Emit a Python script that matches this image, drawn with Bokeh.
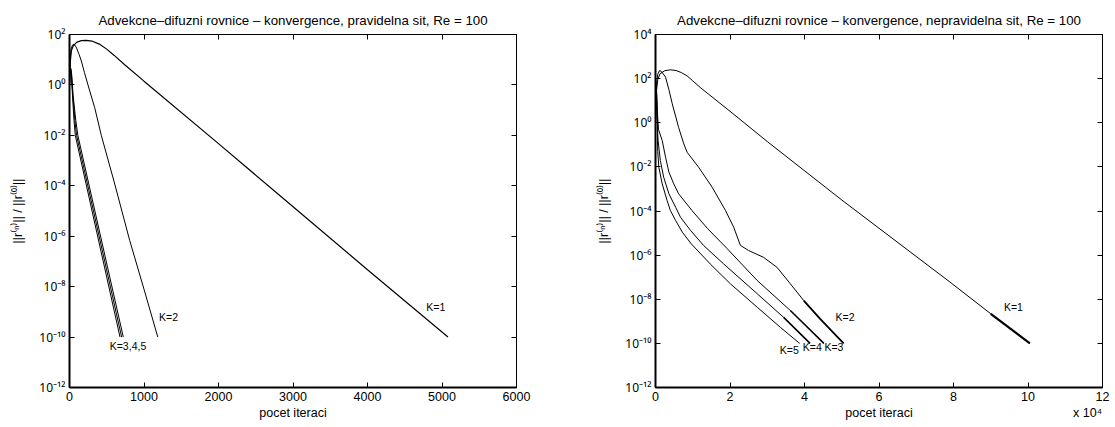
from bokeh.plotting import figure
from bokeh.layouts import row
from bokeh.models import (FixedTicker, CustomJSTickFormatter, LinearAxis, LogAxis,
                          Range1d, ColumnDataSource)
from bokeh.core.properties import value
from bokeh.embed import file_html
from bokeh.resources import INLINE

FONT = "Liberation Sans"
SUPFONT = "Noto Sans"
MIXFONT = "Liberation Sans, Noto Sans"

# ---------------- texts ----------------
left_title = "Advekcne–difuzni rovnice – konvergence, pravidelna sit, Re = 100"
right_title = "Advekcne–difuzni rovnice – konvergence, nepravidelna sit, Re = 100"
x_label = "pocet iteraci"
y_label = "||r⁽ⁿ⁾|| / ||r⁽⁰⁾||"
right_x_multiplier = "x 10⁴"

# ---------------- ticks ----------------
left_x_ticks = [0, 1000, 2000, 3000, 4000, 5000, 6000]
left_y_ticks = [1e-12, 1e-10, 1e-8, 1e-6, 1e-4, 1e-2, 1e0, 1e2]
right_x_ticks = [0, 20000, 40000, 60000, 80000, 100000, 120000]
right_x_tick_labels = ["0", "2", "4", "6", "8", "10", "12"]
right_y_ticks = [1e-12, 1e-10, 1e-8, 1e-6, 1e-4, 1e-2, 1e0, 1e2, 1e4]

# ---------------- left plot: regular grid ----------------
L1_iter = [0, 10, 25, 50, 100, 160, 226, 300, 400, 500, 600, 741, 1000, 2000, 2902, 4000, 5080]
L1_res = [1.0, 7.9, 22.4, 35.5, 50.1, 57.5, 58.9, 55.0, 41.7, 26.3, 14.8, 6.3, 1.41,
          4.7e-3, 2.6e-5, 4.7e-8, 1.0e-10]

L2_iter = [0, 8, 20, 40, 60, 90, 130, 159, 200, 248, 338, 427, 600, 808, 1000, 1185]
L2_res = [1.0, 10.0, 25.1, 38.0, 41.7, 31.6, 15.8, 8.9, 3.16, 1.0, 0.126, 1.0e-2,
          1.41e-4, 6.8e-7, 7.9e-9, 1.0e-10]

L3_iter = [0, 5, 16, 28, 48, 84, 112, 722]
L3_res = [1.0, 2.51, 4.57, 2.82, 0.398, 0.0398, 1.0e-2, 1.0e-10]
L4_iter = [0, 5, 15, 26, 44, 72, 95, 700]
L4_res = [1.0, 2.51, 4.47, 2.82, 0.398, 0.0398, 1.0e-2, 1.0e-10]
L5_iter = [0, 5, 14, 24, 40, 60, 78, 678]
L5_res = [1.0, 2.51, 4.37, 2.82, 0.398, 0.0398, 1.0e-2, 1.0e-10]

left_label_text = ["K=1", "K=2", "K=3,4,5"]
left_label_x = [4916, 1330, 785]
left_label_y = [1.62e-9, 6.0e-10, 4.4e-11]

# ---------------- right plot: irregular grid ----------------
R1_iter = [0, 100, 300, 600, 1200, 2500, 4000, 5500, 7000, 8500, 10000, 12000, 20000,
           30000, 50000, 78500, 90000, 100500]
R1_res = [1.0, 6.31, 31.6, 89.1, 166, 229, 251, 234, 186, 132, 79.4, 39.8, 3.31,
          0.141, 3.16e-4, 7.08e-8, 2.2e-9, 1.0e-10]

R2_iter = [0, 100, 300, 600, 1100, 1700, 2700, 3600, 4500, 6200, 7600, 8500, 11600,
           15200, 18800, 21000, 22800, 25000, 29000, 32600, 36200, 39800, 44200, 50500]
R2_res = [1.0, 10.0, 63.1, 158, 234, 200, 117, 31.6, 7.24, 0.617, 0.110, 4.57e-2,
          9.55e-3, 1.20e-3, 1.05e-4, 1.82e-5, 2.75e-6, 1.62e-6, 7.94e-7, 2.82e-7,
          5.01e-8, 8.71e-9, 1.29e-9, 1.0e-10]

R3_iter = [0, 100, 290, 500, 800, 1800, 2700, 3600, 4900, 6200, 9800, 14000, 19200,
           27300, 36200, 45200]
R3_res = [1.0, 12.6, 26.3, 3.16, 0.501, 0.155, 2.75e-2, 5.75e-3, 1.70e-3, 6.03e-4,
          1.05e-4, 1.58e-5, 2.0e-6, 7.08e-8, 3.09e-9, 1.0e-10]

R4_iter = [0, 100, 270, 450, 600, 700, 1300, 2200, 3600, 5400, 6700, 9400, 12900,
           18300, 27300, 34400, 41500]
R4_res = [1.0, 12.6, 25.7, 3.16, 0.316, 0.155, 1.95e-2, 3.39e-3, 6.03e-4, 1.48e-4,
          5.25e-5, 1.32e-5, 2.75e-6, 3.98e-7, 1.78e-8, 1.51e-9, 1.0e-10]

R5_iter = [0, 100, 250, 400, 500, 600, 900, 1800, 3100, 4000, 5400, 7200, 9600, 14700,
           20100, 27300, 33500, 38700]
R5_res = [1.0, 12.6, 25.1, 3.16, 0.316, 5.01e-2, 9.55e-3, 1.70e-3, 3.02e-4, 1.05e-4,
          3.72e-5, 1.10e-5, 3.24e-6, 3.98e-7, 5.01e-8, 4.37e-9, 5.37e-10, 1.0e-10]

right_label_text = ["K=1", "K=2", "K=3", "K=4", "K=5"]
right_label_x = [96100, 50900, 47900, 42100, 35900]
right_label_y = [4.4e-9, 1.5e-9, 6.8e-11, 6.8e-11, 5.2e-11]

# ---------------- helpers ----------------
SUP_JS = """
const sup = {"-": "\u207b", "0": "\u2070", "1": "\u00b9", "2": "\u00b2", "3": "\u00b3",
             "4": "\u2074", "5": "\u2075", "6": "\u2076", "7": "\u2077", "8": "\u2078",
             "9": "\u2079"};
const e = Math.round(Math.log10(tick));
let s = "";
for (const c of String(e)) { s += sup[c]; }
return "10" + s;
"""
EMPTY_JS = "return '';"


def style_axis(ax, width, labels=True):
    ax.axis_line_color = "black"
    ax.axis_line_width = width
    ax.major_tick_in = 5
    ax.major_tick_out = 0
    ax.minor_tick_in = 0
    ax.minor_tick_out = 0
    ax.major_tick_line_color = "black"
    ax.major_label_text_font = FONT
    ax.major_label_text_font_size = "12.5px" if labels else "0px"
    ax.major_label_text_color = "black"
    ax.major_label_standoff = 4 if labels else 0
    ax.axis_label_text_font = MIXFONT
    ax.axis_label_text_font_size = "12.5px"
    ax.axis_label_text_font_style = "normal"
    ax.axis_label_text_color = "black"


def make_fig(title, x_end, y_start, y_end, x_ticks, y_ticks, min_left, min_right,
             xlabel_pos, xlabel_texts):
    p = figure(frame_width=447, frame_height=353,
               x_range=Range1d(0, x_end), y_range=Range1d(y_start, y_end),
               y_axis_type="log", output_backend="svg", toolbar_location=None,
               min_border_left=min_left, min_border_right=min_right,
               min_border_top=34, min_border_bottom=40, title=title)
    p.background_fill_color = "white"
    p.border_fill_color = "white"
    p.xgrid.visible = False
    p.ygrid.visible = False
    p.outline_line_color = "black"
    p.outline_line_width = 1
    p.outline_line_alpha = 1

    p.title.align = "center"
    p.title.text_font = FONT
    p.title.text_font_size = "13.3px"
    p.title.text_font_style = "normal"
    p.title.text_color = "black"
    p.title.standoff = 14

    xa = p.below[0]
    xa.ticker = FixedTicker(ticks=x_ticks, minor_ticks=[])
    style_axis(xa, 2)

    # x-axis title row (axis label and multiplier share one row)
    xl = LinearAxis(ticker=FixedTicker(ticks=xlabel_pos, minor_ticks=[]),
                    major_label_overrides=dict(zip(xlabel_pos, xlabel_texts)))
    style_axis(xl, 1)
    xl.axis_line_color = None
    xl.major_tick_in = 0
    xl.major_label_standoff = 2
    xl.major_label_text_font = MIXFONT
    p.add_layout(xl, "below")

    ya = p.left[0]
    ya.ticker = FixedTicker(ticks=y_ticks, minor_ticks=[])
    ya.formatter = CustomJSTickFormatter(code=SUP_JS)
    ya.axis_label = y_label
    style_axis(ya, 2)
    ya.major_label_text_font = SUPFONT
    ya.major_label_text_font_size = "12px"
    ya.axis_label_standoff = 11

    top = LinearAxis(ticker=FixedTicker(ticks=x_ticks, minor_ticks=[]),
                     formatter=CustomJSTickFormatter(code=EMPTY_JS))
    style_axis(top, 1, labels=False)
    p.add_layout(top, "above")

    rgt = LogAxis(ticker=FixedTicker(ticks=y_ticks, minor_ticks=[]),
                  formatter=CustomJSTickFormatter(code=EMPTY_JS))
    style_axis(rgt, 1, labels=False)
    p.add_layout(rgt, "right")
    return p


# ---------------- left figure ----------------
p1 = make_fig(left_title, 6000, 1e-12, 1e2, left_x_ticks, left_y_ticks, 69, 20,
              [3000], [x_label])
for xs, ys, w in [(L1_iter, L1_res, 1.2), (L2_iter, L2_res, 1.0), (L3_iter, L3_res, 1.0),
                  (L4_iter, L4_res, 1.0), (L5_iter, L5_res, 1.0)]:
    p1.line(xs, ys, line_color="black", line_width=w)
p1.text(x="x", y="y", text="t",
        source=ColumnDataSource(dict(x=left_label_x, y=left_label_y, t=left_label_text)),
        text_font=value(FONT), text_font_size="10.5px", text_color="black",
        text_align="center", text_baseline="middle")

# ---------------- right figure ----------------
p2 = make_fig(right_title, 120000, 1e-12, 1e4, right_x_ticks, right_y_ticks, 119, 13,
              [60000, 116000], [x_label, right_x_multiplier])
p2.below[0].major_label_overrides = dict(zip(right_x_ticks, right_x_tick_labels))
for xs, ys in [(R1_iter, R1_res), (R2_iter, R2_res), (R3_iter, R3_res),
               (R4_iter, R4_res), (R5_iter, R5_res)]:
    p2.line(xs, ys, line_color="black", line_width=1.0)
# thicker (noisy) tails near convergence
p2.line(R1_iter[-2:], R1_res[-2:], line_color="black", line_width=2.2)
p2.line(R2_iter[-3:], R2_res[-3:], line_color="black", line_width=1.8)
p2.line(R3_iter[-2:], R3_res[-2:], line_color="black", line_width=1.5)
p2.line(R4_iter[-2:], R4_res[-2:], line_color="black", line_width=1.5)
p2.text(x="x", y="y", text="t",
        source=ColumnDataSource(dict(x=right_label_x, y=right_label_y, t=right_label_text)),
        text_font=value(FONT), text_font_size="10.5px", text_color="black",
        text_align="center", text_baseline="middle")

layout = row(p1, p2)
open("out.html", "w").write(file_html(layout, INLINE))
